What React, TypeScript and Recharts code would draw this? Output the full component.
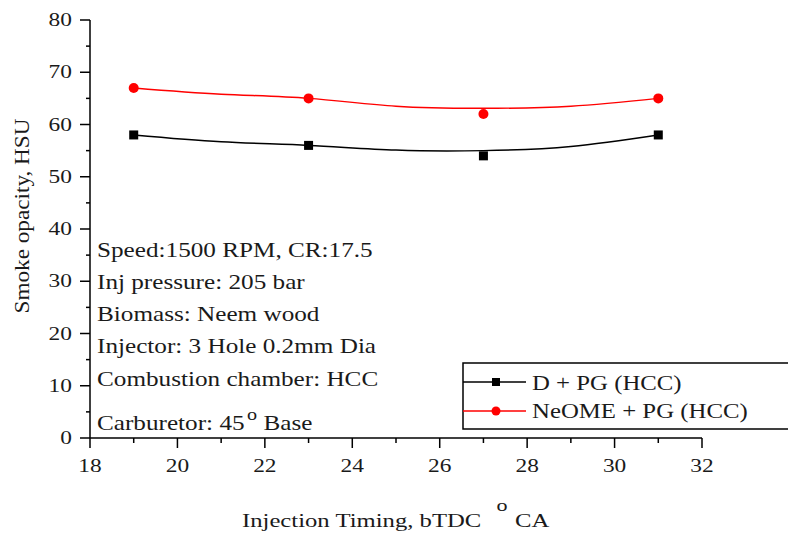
import React from 'react'
import { ComposedChart, Line, Scatter, XAxis, YAxis } from 'recharts'

// measured points
const timing = [19, 23, 27, 31]
const dieselPG = [58, 56, 54, 58]
const neomePG = [67, 65, 62, 65]

// fitted curves
const curveTiming = [19, 21, 23, 25, 27, 29, 31]
const dieselCurve = [58, 56.7, 56, 55.1, 55, 55.8, 58]
const neomeCurve = [67, 65.8, 65, 63.5, 63.1, 63.5, 65]

const xTicks = [18, 19, 20, 21, 22, 23, 24, 25, 26, 27, 28, 29, 30, 31, 32]
const yTicks = [0, 5, 10, 15, 20, 25, 30, 35, 40, 45, 50, 55, 60, 65, 70, 75, 80]

const notes = [
  'Speed:1500 RPM, CR:17.5',
  'Inj pressure: 205 bar',
  'Biomass: Neem wood',
  'Injector: 3 Hole 0.2mm Dia',
  'Combustion chamber: HCC',
]
const noteBaselines = [257, 289, 321, 353, 386]

const FONT = '"Liberation Serif", "Times New Roman", serif'
const INK = '#1a1a1a'

const curveData = curveTiming.map((t, i) => ({ t, d: dieselCurve[i], n: neomeCurve[i] }))
const dieselPts = timing.map((t, i) => ({ t, v: dieselPG[i] }))
const neomePts = timing.map((t, i) => ({ t, v: neomePG[i] }))

// the source renders its serif text rather wide, so stretch it horizontally
const ST = ({ x, y, size, sx = 1.3, anchor = 'start', rot = 0, children }: any) => (
  <text
    transform={`translate(${x}, ${y}) rotate(${rot}) scale(${sx}, 1)`}
    fontSize={size}
    fontFamily={FONT}
    fill={INK}
    textAnchor={anchor}
  >
    {children}
  </text>
)

const XTick = (props: any) => {
  const { x, y, payload } = props
  const major = payload.value % 2 === 0
  return (
    <g>
      <line x1={x} y1={y} x2={x} y2={y + (major ? 10 : 5)} stroke="#000" strokeWidth={1.5} />
      {major && (
        <ST x={x} y={y + 34} size={18} sx={1.3} anchor="middle">
          {payload.value}
        </ST>
      )}
    </g>
  )
}

const YTick = (props: any) => {
  const { x, y, payload } = props
  const major = payload.value % 10 === 0
  return (
    <g>
      <line x1={x - (major ? 10 : 4)} y1={y} x2={x} y2={y} stroke="#000" strokeWidth={1.5} />
      {major && (
        <ST x={x - 18} y={y + 6} size={18} sx={1.3} anchor="end">
          {payload.value}
        </ST>
      )}
    </g>
  )
}

const squareShape = (p: any) => <rect x={p.cx - 4.5} y={p.cy - 4.5} width={9} height={9} fill="#000" />
const circleShape = (p: any) => <circle cx={p.cx} cy={p.cy} r={5} fill="#ff0000" />

export default function App() {
  return (
    <div style={{ position: 'absolute', left: 0, top: 0, width: 788, height: 536, background: '#fff' }}>
      <ComposedChart
        width={788}
        height={536}
        data={curveData}
        margin={{ top: 20, right: 86, bottom: 97, left: 89 }}
      >
        <XAxis
          dataKey="t"
          type="number"
          domain={[18, 32]}
          ticks={xTicks}
          interval={0}
          height={1}
          tickSize={0}
          tickMargin={0}
          tickLine={false}
          axisLine={{ stroke: '#000', strokeWidth: 1.5 }}
          tick={XTick}
        />
        <YAxis
          type="number"
          domain={[0, 80]}
          ticks={yTicks}
          interval={0}
          width={1}
          tickSize={0}
          tickMargin={0}
          tickLine={false}
          axisLine={{ stroke: '#000', strokeWidth: 1.5 }}
          tick={YTick}
        />
        <Line dataKey="d" type="natural" stroke="#000" strokeWidth={1.5} dot={false} isAnimationActive={false} />
        <Line dataKey="n" type="natural" stroke="#ff0000" strokeWidth={1.5} dot={false} isAnimationActive={false} />
        <Scatter data={dieselPts} dataKey="v" shape={squareShape} isAnimationActive={false} />
        <Scatter data={neomePts} dataKey="v" shape={circleShape} isAnimationActive={false} />
      </ComposedChart>

      <svg
        width={788}
        height={536}
        style={{ position: 'absolute', left: 0, top: 0, pointerEvents: 'none' }}
      >
        {notes.map((n, i) => (
          <ST key={n} x={97} y={noteBaselines[i]} size={20} sx={1.26}>
            {n}
          </ST>
        ))}
        <ST x={97} y={430} size={20} sx={1.26}>
          Carburetor: 45
          <tspan dx={2} dy={-10} fontSize={16}>o</tspan>
          <tspan dy={10}> Base</tspan>
        </ST>

        {/* legend */}
        <rect x={463} y={363} width={340} height={66} fill="#fff" stroke="#000" strokeWidth={1.5} />
        <line x1={463} y1={382} x2={526} y2={382} stroke="#000" strokeWidth={1.5} />
        <rect x={492} y={378} width={8} height={8} fill="#000" />
        <ST x={532} y={390} size={20} sx={1.24}>D + PG (HCC)</ST>
        <line x1={463} y1={411} x2={526} y2={411} stroke="#ff0000" strokeWidth={1.5} />
        <circle cx={496} cy={411} r={4.5} fill="#ff0000" />
        <ST x={532} y={418} size={20} sx={1.24}>NeOME + PG (HCC)</ST>

        {/* axis titles */}
        <ST x={242} y={527} size={19} sx={1.3}>Injection Timing, bTDC</ST>
        <ST x={502} y={511} size={17} sx={1.3} anchor="middle">o</ST>
        <ST x={515} y={527} size={19} sx={1.3}>CA</ST>
        <ST x={29} y={216} size={20} sx={1.16} anchor="middle" rot={-90}>
          Smoke opacity, HSU
        </ST>
      </svg>
    </div>
  )
}
